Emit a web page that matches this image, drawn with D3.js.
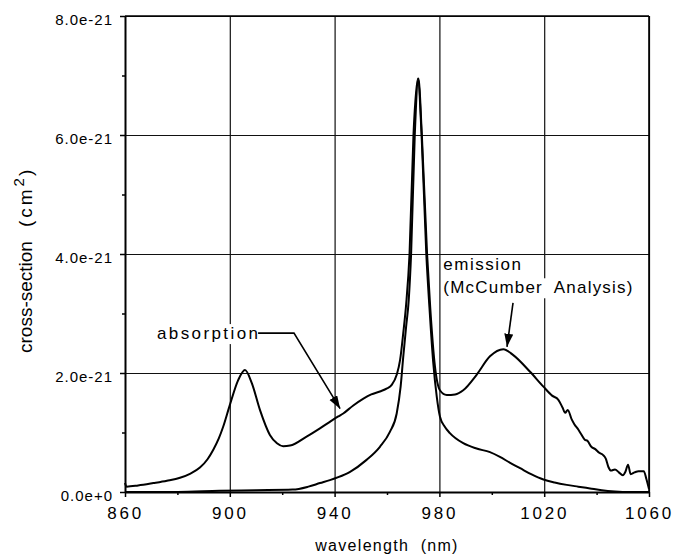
<!DOCTYPE html>
<html>
<head>
<meta charset="utf-8">
<script src="https://cdn.jsdelivr.net/npm/d3@7"></script>
<style>
  body { margin: 0; background: #fff; }
  svg text { font-family: "Liberation Sans", Arial, Helvetica, sans-serif; fill: #000; }
</style>
</head>
<body>
<div id="chart"></div>
<script>
// cross-section values are in units of 1e-21 cm^2
var absWl  = [860, 860.6, 865, 870.8, 876, 881, 885, 888.6, 891.5, 893.7, 895.8, 897.5, 900, 903.2, 905.8, 908.4, 911.5, 915.3, 918, 920.4, 923, 929.3, 934.4, 938.2, 941.4, 943.3, 947, 951, 954, 957.3, 960, 961.8, 963.7, 965, 966.2, 967.3, 968.6, 970.1, 971.8, 973.2, 975, 976.2, 977.6, 979, 980.2, 982, 984, 989.1, 994.2, 999.3, 1003.1, 1007, 1010.8, 1015, 1019.7, 1024, 1028.6, 1033, 1037.5, 1042, 1047, 1052, 1060];
var absVal = [0.15, 0.09, 0.11, 0.15, 0.19, 0.24, 0.31, 0.41, 0.55, 0.71, 0.90, 1.10, 1.46, 1.88, 2.05, 1.83, 1.38, 0.96, 0.82, 0.77, 0.78, 0.93, 1.07, 1.18, 1.27, 1.32, 1.45, 1.57, 1.64, 1.69, 1.74, 1.80, 1.97, 2.22, 2.67, 3.15, 4.0, 6.0, 6.95, 6.0, 4.0, 3.1, 2.2, 1.60, 1.27, 1.10, 0.99, 0.82, 0.73, 0.67, 0.59, 0.49, 0.40, 0.30, 0.21, 0.16, 0.12, 0.09, 0.06, 0.03, 0.01, 0.0, 0.0];

var emiWl  = [860, 880, 896, 910, 924, 930, 934.4, 938.2, 941.4, 945.9, 952.2, 957.3, 961.1, 963.7, 965.2, 966.2, 967.3, 968.3, 969.2, 970.6, 972, 973.3, 975.3, 976.5, 978.3, 980.2, 982.8, 986, 989.1, 994.2, 999.3, 1004.4, 1008.2, 1014.6, 1019.7, 1023, 1025.4, 1027, 1028, 1029, 1030.5, 1031.5, 1033, 1034, 1035.5, 1036.5, 1038, 1039.5, 1041, 1042.5, 1043.5, 1044.5, 1045.5, 1047, 1048.5, 1050, 1051, 1052, 1053, 1054.5, 1056, 1058, 1059, 1060];
var emiVal = [0.0, 0.0, 0.02, 0.03, 0.04, 0.09, 0.15, 0.20, 0.25, 0.34, 0.54, 0.76, 1.01, 1.32, 1.77, 2.27, 2.78, 3.23, 4.0, 6.0, 6.95, 6.0, 4.0, 3.1, 2.11, 1.71, 1.63, 1.64, 1.71, 1.97, 2.28, 2.40, 2.30, 2.02, 1.77, 1.62, 1.55, 1.42, 1.33, 1.38, 1.22, 1.14, 1.05, 0.98, 0.88, 0.86, 0.76, 0.72, 0.66, 0.62, 0.56, 0.42, 0.36, 0.38, 0.33, 0.28, 0.34, 0.46, 0.30, 0.33, 0.35, 0.35, 0.22, 0.05];

var xTicks = [860, 900, 940, 980, 1020, 1060];
var xMinor = [880, 920, 960, 1000, 1040];
var yTicks = [0, 2, 4, 6, 8];
var yTickLabels = ["0.0e+0", "2.0e-21", "4.0e-21", "6.0e-21", "8.0e-21"];
var yMinor = [1, 3, 5, 7];

// svg params
var svgWidth = 675;
var svgHeight = 554;
var margin = { top: 16, right: 26, bottom: 62, left: 125 };
var width = svgWidth - margin.left - margin.right;
var height = svgHeight - margin.top - margin.bottom;

var svg = d3.select("#chart").append("svg")
  .attr("width", svgWidth)
  .attr("height", svgHeight);

svg.append("defs").append("marker")
  .attr("id", "arrow")
  .attr("markerUnits", "userSpaceOnUse")
  .attr("markerWidth", 14)
  .attr("markerHeight", 10)
  .attr("refX", 13)
  .attr("refY", 4.5)
  .attr("orient", "auto")
  .append("path")
  .attr("d", "M0,0 L13,4.5 L0,9 Z")
  .attr("fill", "#000");

var chartGroup = svg.append("g")
  .attr("transform", `translate(${margin.left}, ${margin.top})`);

var xScale = d3.scaleLinear().domain([860, 1060]).range([0, width]);
var yScale = d3.scaleLinear().domain([0, 8]).range([height, 0]);

// grid lines
chartGroup.append("g")
  .call(d3.axisBottom(xScale).tickValues(xTicks.slice(1)).tickSize(height).tickFormat(""))
  .call(g => g.select(".domain").remove())
  .selectAll("line").attr("stroke", "#111").attr("stroke-width", 1.2);

chartGroup.append("g")
  .call(d3.axisLeft(yScale).tickValues(yTicks.slice(1)).tickSize(-width).tickFormat(""))
  .call(g => g.select(".domain").remove())
  .selectAll("line").attr("stroke", "#111").attr("stroke-width", 1.2);

// annotation labels on white boxes
var labelGroup = chartGroup.append("g");
function label(wl, v, str, spacing) {
  return labelGroup.append("text")
    .attr("x", xScale(wl))
    .attr("y", yScale(v))
    .style("font-size", "17px")
    .style("letter-spacing", spacing + "px")
    .style("white-space", "pre")
    .text(str);
}

var labels = [
  label(872.2, 2.57, "absorption", 2.4),
  label(981.5, 3.73, "emission", 1.5),
  label(981.5, 3.34, "(McCumber  Analysis)", 1.2)
];
labels.forEach(function(t) {
  var b = t.node().getBBox();
  labelGroup.insert("rect", () => t.node())
    .attr("x", b.x - 2)
    .attr("y", b.y)
    .attr("width", b.width + 3)
    .attr("height", b.height + 1)
    .attr("fill", "#fff");
});

// curves
var line = d3.line()
  .x(d => xScale(d[0]))
  .y(d => yScale(d[1]))
  .curve(d3.curveMonotoneX);

chartGroup.append("path")
  .datum(absWl.map((w, i) => [w, absVal[i]]))
  .attr("d", line)
  .attr("fill", "none")
  .attr("stroke", "#000")
  .attr("stroke-width", 2);

chartGroup.append("path")
  .datum(emiWl.map((w, i) => [w, emiVal[i]]))
  .attr("d", line)
  .attr("fill", "none")
  .attr("stroke", "#000")
  .attr("stroke-width", 2);

// leader lines with arrows
var leader = d3.line().x(d => xScale(d[0])).y(d => yScale(d[1]));
var absArrow = [[910.8, 2.67], [924.5, 2.67], [942.1, 1.40]];
var emiArrow = [[1008.1, 3.18], [1005.8, 2.44]];

[absArrow, emiArrow].forEach(function(pts) {
  chartGroup.append("path")
    .attr("d", leader(pts))
    .attr("fill", "none")
    .attr("stroke", "#000")
    .attr("stroke-width", 1.6)
    .attr("marker-end", "url(#arrow)");
});

// frame (top and right)
chartGroup.append("line")
  .attr("x1", 0).attr("x2", width).attr("y1", 0).attr("y2", 0)
  .attr("stroke", "#000").attr("stroke-width", 1.6);
chartGroup.append("line")
  .attr("x1", width).attr("x2", width).attr("y1", 0).attr("y2", height)
  .attr("stroke", "#000").attr("stroke-width", 1.6);

// minor ticks
chartGroup.append("g")
  .attr("transform", `translate(0, ${height})`)
  .call(d3.axisBottom(xScale).tickValues(xMinor).tickSize(3).tickFormat(""))
  .call(g => g.select(".domain").remove())
  .selectAll("line").attr("stroke-width", 1.5);

chartGroup.append("g")
  .call(d3.axisLeft(yScale).tickValues(yMinor).tickSize(3).tickFormat(""))
  .call(g => g.select(".domain").remove())
  .selectAll("line").attr("stroke-width", 1.5);

// main axes
var bottomAxis = d3.axisBottom(xScale).tickValues(xTicks).tickFormat(d3.format("d"))
  .tickSize(5).tickPadding(10).tickSizeOuter(0);
var leftAxis = d3.axisLeft(yScale).tickValues(yTicks)
  .tickFormat((d, i) => yTickLabels[i]).tickSize(5).tickPadding(7).tickSizeOuter(0);

var xAxisG = chartGroup.append("g")
  .attr("transform", `translate(0, ${height})`)
  .call(bottomAxis);
xAxisG.selectAll("text")
  .style("font-size", "17px")
  .style("letter-spacing", "2.8px");
xAxisG.selectAll("line").attr("stroke-width", 1.5);
xAxisG.select(".domain").attr("stroke-width", 2);

var yAxisG = chartGroup.append("g").call(leftAxis);
yAxisG.selectAll("text")
  .style("font-size", "15px")
  .style("letter-spacing", "1px")
  .attr("dy", "8px");
yAxisG.selectAll("line").attr("stroke-width", 1.5);
yAxisG.select(".domain").attr("stroke-width", 2);

svg.selectAll(".tick text").attr("fill", "#000").style("font-family", '"Liberation Sans", Arial, sans-serif');

// axis labels
chartGroup.append("text")
  .attr("x", width / 2)
  .attr("y", height + 59)
  .attr("text-anchor", "middle")
  .style("font-size", "16px")
  .style("letter-spacing", "1.3px")
  .style("white-space", "pre")
  .text("wavelength  (nm)");

var yTitle = svg.append("text")
  .attr("transform", "translate(32, 353) rotate(-90)")
  .style("font-size", "19px");
yTitle.append("tspan").text("cross-section");
yTitle.append("tspan").attr("dx", 14).style("letter-spacing", "3px").text("(cm");
yTitle.append("tspan").style("font-size", "15px").attr("dy", -8).attr("dx", 0).text("2");
yTitle.append("tspan").attr("dy", 8).attr("dx", 2).text(")");
</script>
</body>
</html>
